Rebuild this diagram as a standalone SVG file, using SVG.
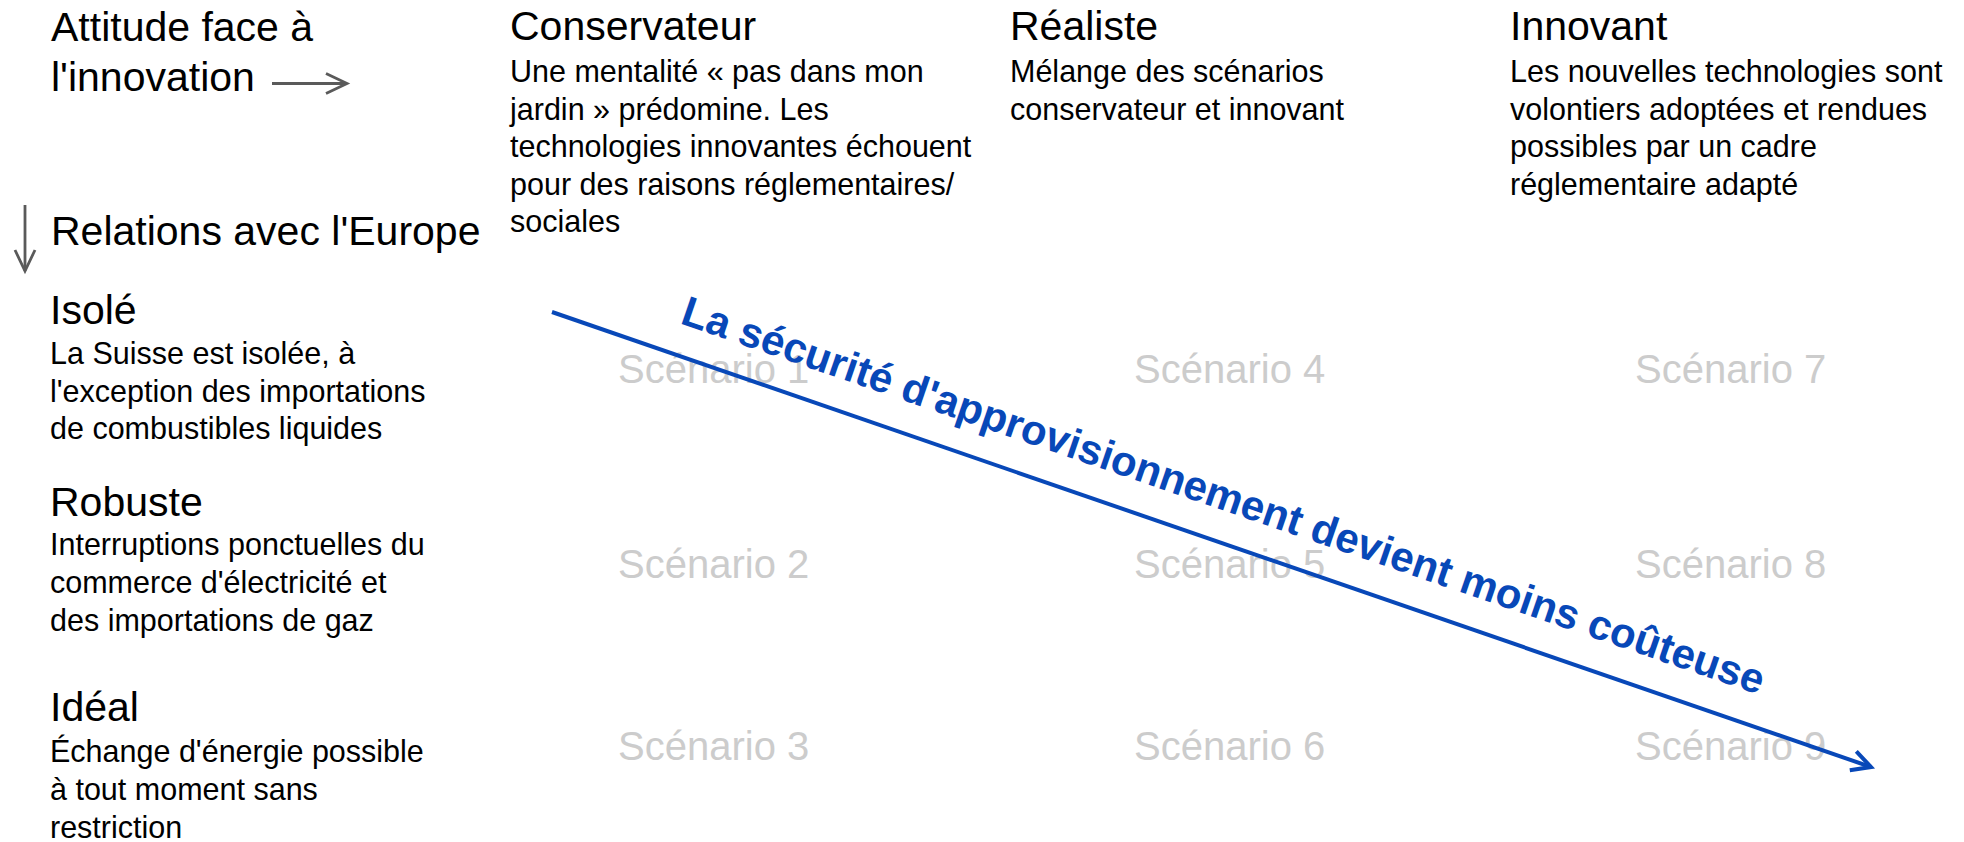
<svg xmlns="http://www.w3.org/2000/svg" width="1964" height="842" viewBox="0 0 1964 842">
  <style>
    text { font-family: "Liberation Sans", Arial, sans-serif; fill: #000; }
    .h { font-size: 41px; }
    .b { font-size: 30.5px; }
    .sc { font-size: 40px; fill: #cccccc; }
    .blue { font-size: 42px; font-weight: bold; fill: #0848b8; }
    .garrow { stroke: #5a5a5a; stroke-width: 2.8; fill: none; }
  </style>
  <defs>
    <marker id="ga" markerUnits="userSpaceOnUse" markerWidth="30" markerHeight="30" viewBox="-25 -15 30 30" refX="0" refY="0" orient="auto">
      <path d="M -21 -10 L 0 0 L -21 10" fill="none" stroke="#5a5a5a" stroke-width="2.8"/>
    </marker>
    <marker id="ba" markerUnits="userSpaceOnUse" markerWidth="30" markerHeight="30" viewBox="-25 -15 30 30" refX="0" refY="0" orient="auto">
      <path d="M -19 -10 L 0 0 L -19 10" fill="none" stroke="#0848b8" stroke-width="4"/>
    </marker>
  </defs>
  <rect width="1964" height="842" fill="#ffffff"/>

  <g id="axis-innovation">
    <text class="h" x="51" y="41">Attitude face à</text>
    <text class="h" x="51" y="91">l'innovation</text>
  </g>
  <g id="axis-europe">
    <text class="h" x="51" y="245">Relations avec l'Europe</text>
  </g>

  <g id="col-conservateur">
    <text class="h" x="510" y="40">Conservateur</text>
    <text class="b" x="510" y="82">Une mentalité « pas dans mon</text>
    <text class="b" x="510" y="119.5">jardin » prédomine. Les</text>
    <text class="b" x="510" y="157">technologies innovantes échouent</text>
    <text class="b" x="510" y="194.5">pour des raisons réglementaires/</text>
    <text class="b" x="510" y="232">sociales</text>
  </g>
  <g id="col-realiste">
    <text class="h" x="1010" y="40">Réaliste</text>
    <text class="b" x="1010" y="82">Mélange des scénarios</text>
    <text class="b" x="1010" y="119.5">conservateur et innovant</text>
  </g>
  <g id="col-innovant">
    <text class="h" x="1510" y="40">Innovant</text>
    <text class="b" x="1510" y="82">Les nouvelles technologies sont</text>
    <text class="b" x="1510" y="119.5">volontiers adoptées et rendues</text>
    <text class="b" x="1510" y="157">possibles par un cadre</text>
    <text class="b" x="1510" y="194.5">réglementaire adapté</text>
  </g>

  <g id="row-isole">
    <text class="h" x="50" y="324">Isolé</text>
    <text class="b" x="50" y="364">La Suisse est isolée, à</text>
    <text class="b" x="50" y="401.5">l'exception des importations</text>
    <text class="b" x="50" y="439">de combustibles liquides</text>
  </g>
  <g id="row-robuste">
    <text class="h" x="50" y="516">Robuste</text>
    <text class="b" x="50" y="555">Interruptions ponctuelles du</text>
    <text class="b" x="50" y="593">commerce d'électricité et</text>
    <text class="b" x="50" y="631">des importations de gaz</text>
  </g>
  <g id="row-ideal">
    <text class="h" x="50" y="721">Idéal</text>
    <text class="b" x="50" y="762">Échange d'énergie possible</text>
    <text class="b" x="50" y="800">à tout moment sans</text>
    <text class="b" x="50" y="838">restriction</text>
  </g>

  <g id="scenarios">
    <text class="sc" x="618" y="383">Scénario 1</text>
    <text class="sc" x="618" y="578">Scénario 2</text>
    <text class="sc" x="618" y="760">Scénario 3</text>
    <text class="sc" x="1134" y="383">Scénario 4</text>
    <text class="sc" x="1134" y="578">Scénario 5</text>
    <text class="sc" x="1134" y="760">Scénario 6</text>
    <text class="sc" x="1635" y="383">Scénario 7</text>
    <text class="sc" x="1635" y="578">Scénario 8</text>
    <text class="sc" x="1635" y="760">Scénario 9</text>
  </g>

  <g id="connectors">
    <line class="garrow" x1="272" y1="83.5" x2="347" y2="83.5" marker-end="url(#ga)"/>
    <line class="garrow" x1="25" y1="205" x2="25" y2="271" marker-end="url(#ga)"/>
    <line x1="552" y1="312" x2="1871" y2="767" stroke="#0848b8" stroke-width="4" marker-end="url(#ba)"/>
  </g>

  <g id="trend-label">
    <text class="blue" transform="translate(679,323) rotate(19)" x="0" y="0" textLength="1142" lengthAdjust="spacing">La sécurité d'approvisionnement devient moins coûteuse</text>
  </g>
</svg>
